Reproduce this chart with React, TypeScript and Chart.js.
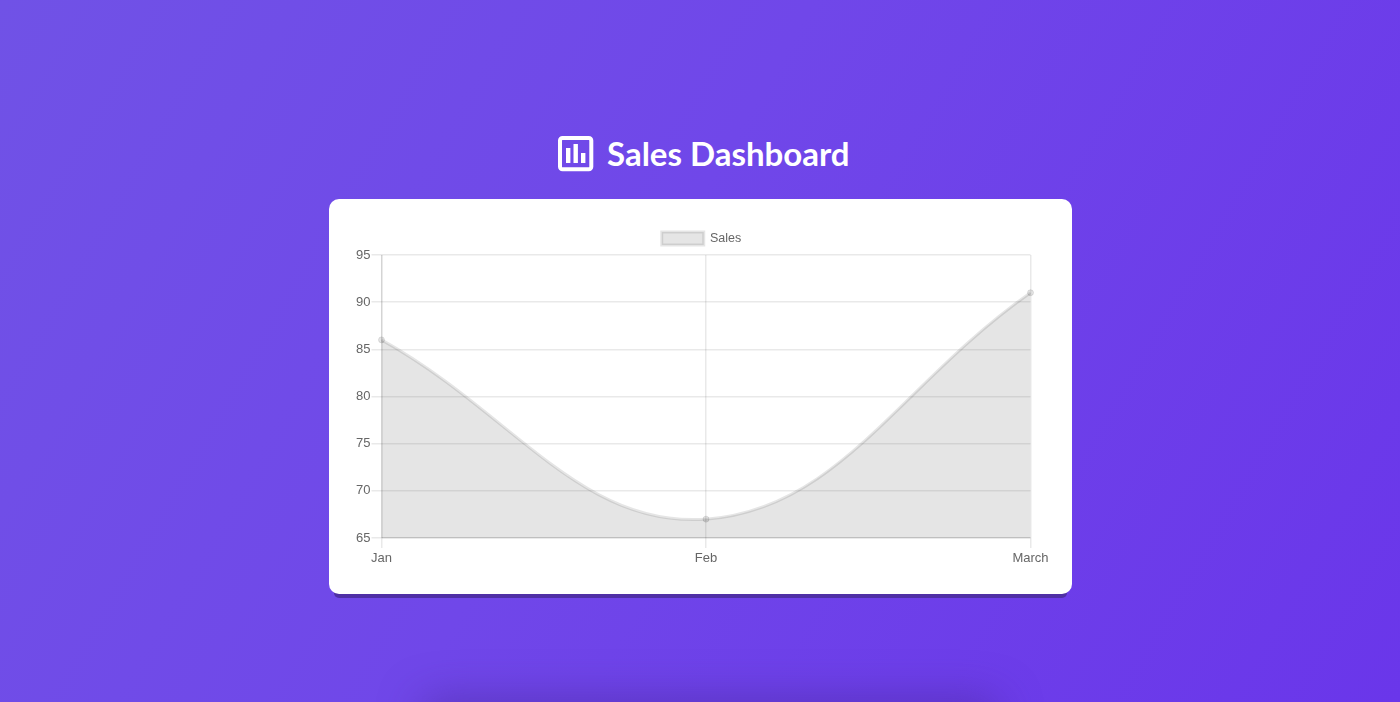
import React, { useEffect, useRef } from "react";
import { Chart, registerables } from "chart.js";

Chart.register(...registerables);

const categories = ["Jan", "Feb", "March"];
const seriesName = "Sales";
const salesValues = [86, 67, 91];
const yMin = 65;
const yMax = 95;
const yStep = 5;
const titleText = "Sales Dashboard";

const FONT = "'Liberation Sans', Arial, sans-serif";
const FILL = "rgba(0,0,0,0.1)";
const GRID = "rgba(0,0,0,0.085)";
const ZERO = "rgba(0,0,0,0.17)";

const centreLegendOnCard = {
  id: "centreLegendOnCard",
  afterLayout(chart: any) {
    if (chart.legend) {
      chart.legend.left += 21.75;
      chart.legend.right += 21.75;
    }
  },
};

export default function App() {
  const ref = useRef<HTMLCanvasElement | null>(null);

  useEffect(() => {
    if (!ref.current) return;
    const chart = new Chart(ref.current, {
      type: "line",
      plugins: [centreLegendOnCard],
      data: {
        labels: categories,
        datasets: [
          {
            label: seriesName,
            data: salesValues,
            fill: "origin",
            tension: 0.4,
            backgroundColor: FILL,
            borderColor: FILL,
            borderWidth: 3,
            pointRadius: 3,
            pointBorderWidth: 1,
            pointBackgroundColor: FILL,
            pointBorderColor: FILL,
          },
        ],
      },
      options: {
        responsive: false,
        animation: false,
        layout: { padding: { left: 0, right: 41.5, top: 23, bottom: 0 } },
        plugins: {
          tooltip: { enabled: false },
          legend: {
            display: true,
            position: "top",
            labels: {
              boxWidth: 42,
              boxHeight: 13,
              padding: 10,
              color: "#666",
              font: { family: FONT, size: 12.5 },
            },
          },
        },
        scales: {
          x: {
            grid: {
              color: (c: any) => (c.index === 0 ? ZERO : GRID),
              tickColor: GRID,
              lineWidth: 1.5,
              tickLength: 10,
            },
            border: { display: false },
            ticks: {
              color: "#666",
              font: { family: FONT, size: 13 },
              padding: 3,
              maxRotation: 0,
              autoSkip: false,
            },
            afterFit: (s: any) => {
              s.height = 56;
            },
          },
          y: {
            min: yMin,
            max: yMax,
            grid: {
              color: (c: any) => (c.index === 0 ? ZERO : GRID),
              tickColor: GRID,
              lineWidth: 1.5,
              tickLength: 10,
            },
            border: { display: false },
            ticks: {
              stepSize: yStep,
              color: "#666",
              font: { family: FONT, size: 13 },
              padding: 1,
            },
            afterFit: (s: any) => {
              s.width = 52.5;
            },
          },
        },
      },
    });
    return () => chart.destroy();
  }, []);

  return (
    <div
      style={{
        position: "fixed",
        inset: 0,
        overflow: "hidden",
        background: "linear-gradient(120deg, #7052e6 0%, #7047e9 45%, #6a36ea 100%)",
      }}
    >
      <div
        style={{
          position: "absolute",
          left: 430,
          width: 560,
          top: 708,
          height: 20,
          borderRadius: 20,
          boxShadow: "0 0 40px 10px rgba(70,40,150,0.5)",
        }}
      />
      <svg
        style={{ position: "absolute", left: 558, top: 136 }}
        width={36}
        height={36}
        viewBox="0 0 36 36"
      >
        <rect x={2} y={2} width={31.3} height={31.3} rx={2.5} fill="none" stroke="#fff" strokeWidth={4} />
        <rect x={8} y={12} width={4.4} height={15} fill="#fff" />
        <rect x={15.5} y={8} width={4.4} height={19} fill="#fff" />
        <rect x={23} y={17} width={4.4} height={10} fill="#fff" />
      </svg>
      <div
        style={{
          position: "absolute",
          left: 607,
          top: 129,
          lineHeight: "48px",
          fontFamily: "Lato, sans-serif",
          fontWeight: 700,
          fontSize: 33,
          color: "#fff",
          whiteSpace: "nowrap",
        }}
      >
        {titleText}
      </div>
      <div
        style={{
          position: "absolute",
          left: 329,
          top: 199,
          width: 743,
          height: 395,
          background: "#fff",
          borderRadius: 10,
          boxShadow: "0 9px 0 -5px #4f2fa5",
        }}
      >
        <canvas ref={ref} width={743} height={395} style={{ display: "block", width: 743, height: 395 }} />
      </div>
    </div>
  );
}
